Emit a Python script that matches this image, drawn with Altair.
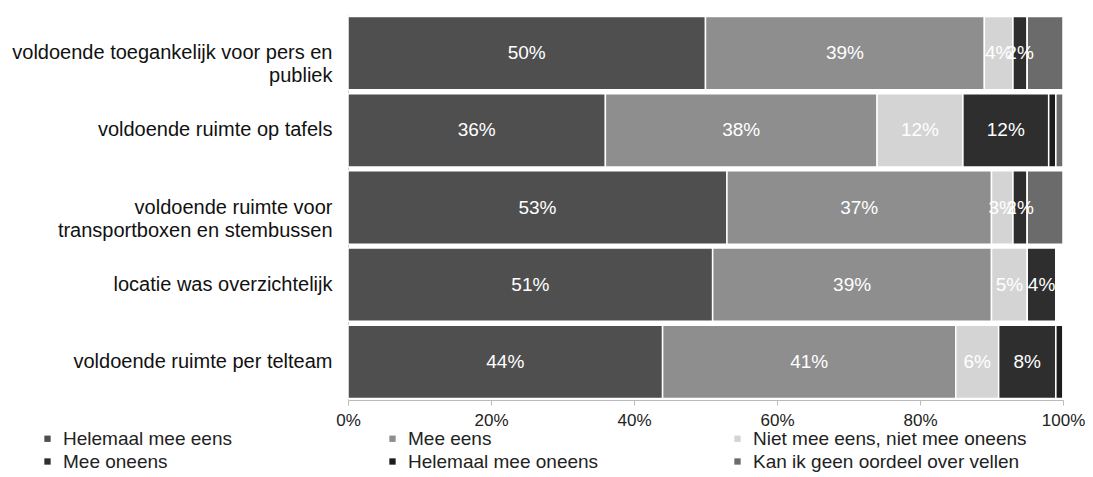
import altair as alt
import pandas as pd

items = [
    "voldoende toegankelijk voor pers en publiek",
    "voldoende ruimte op tafels",
    "voldoende ruimte voor transportboxen en stembussen",
    "locatie was overzichtelijk",
    "voldoende ruimte per telteam",
]
answers = [
    "Helemaal mee eens",
    "Mee eens",
    "Niet mee eens, niet mee oneens",
    "Mee oneens",
    "Helemaal mee oneens",
    "Kan ik geen oordeel over vellen",
]
helemaal_mee_eens = [50, 36, 53, 51, 44]
mee_eens = [39, 38, 37, 39, 41]
neutraal = [4, 12, 3, 5, 6]
mee_oneens = [2, 12, 2, 4, 8]
helemaal_mee_oneens = [0, 1, 0, 0, 1]
geen_oordeel = [5, 1, 5, 0, 0]
colors = ["#4f4f4f", "#8e8e8e", "#d4d4d4", "#2e2e2e", "#1c1c1c", "#6b6b6b"]

series = [helemaal_mee_eens, mee_eens, neutraal, mee_oneens, helemaal_mee_oneens, geen_oordeel]
rows = []
for a_i, (ans, vals) in enumerate(zip(answers, series)):
    for item, v in zip(items, vals):
        rows.append({"item": item, "answer": ans, "order": a_i, "value": v})
df = pd.DataFrame(rows)

NB = "\u00a0"
two_line = {
    items[0]: ["voldoende toegankelijk voor pers en", "publiek" + NB * 23],
    items[2]: ["voldoende ruimte voor" + NB * 7, "transportboxen en stembussen"],
}
expr = "datum.label"
for k, (l1, l2) in two_line.items():
    expr = f"datum.label == '{k}' ? ['{l1}', '{l2}'] : ({expr})"

FONT = "Liberation Sans"

base = alt.Chart(df).transform_stack(
    stack="value", groupby=["item"], as_=["x0", "x1"],
    sort=[alt.SortField("order", order="ascending")]
)

y_enc = alt.Y(
    "item:N", sort=items,
    scale=alt.Scale(paddingInner=0.05, paddingOuter=0.02),
    axis=alt.Axis(title=None, ticks=False, domain=True, domainColor="#cccccc",
                  labelFontSize=20, labelFont=FONT, labelPadding=16,
                  labelExpr=expr, labelLineHeight=23, labelColor="#111111",
                  labelLimit=400),
)

bars = base.mark_bar(stroke="white", strokeWidth=1.5).encode(
    x=alt.X("x0:Q", scale=alt.Scale(domain=[0, 100], nice=False),
            axis=alt.Axis(values=[0, 20, 40, 60, 80, 100], labelExpr="datum.value + '%'",
                          title=None, grid=False, domainColor="#bbbbbb", tickColor="#bbbbbb",
                          tickSize=5, labelFontSize=17, labelFont=FONT, labelColor="#222222",
                          labelPadding=7, labelFlush=False)),
    x2="x1:Q",
    y=y_enc,
    color=alt.Color("answer:N", sort=answers,
                    scale=alt.Scale(domain=answers, range=colors),
                    legend=alt.Legend(orient="none", legendX=-310, legendY=414, columns=3,
                                      direction="horizontal", title=None, symbolType="square",
                                      symbolSize=40, labelFontSize=19, labelFont=FONT,
                                      labelColor="#222222", labelLimit=400, gridAlign="all",
                                      columnPadding=46, rowPadding=3, labelOffset=6,
                                      symbolStrokeWidth=0)),
    order=alt.Order("order:Q"),
)

labels = base.transform_filter(
    "datum.value >= 2 && datum.answer != 'Kan ik geen oordeel over vellen'"
).transform_calculate(
    mid="(datum.x0 + datum.x1) / 2", lab="datum.value + '%'"
).mark_text(color="white", fontSize=19, font=FONT, align="center", baseline="middle").encode(
    x="mid:Q",
    y=alt.Y("item:N", sort=items),
    text="lab:N",
)

chart = alt.layer(bars, labels).properties(
    width=715, height=385,
    padding={"left": 340, "top": 7, "right": 22, "bottom": 77},
    autosize=alt.AutoSizeParams(type="none"),
    background="white",
).configure_view(stroke=None)

chart.save("out.html", embed_options={"renderer": "svg", "actions": False})
